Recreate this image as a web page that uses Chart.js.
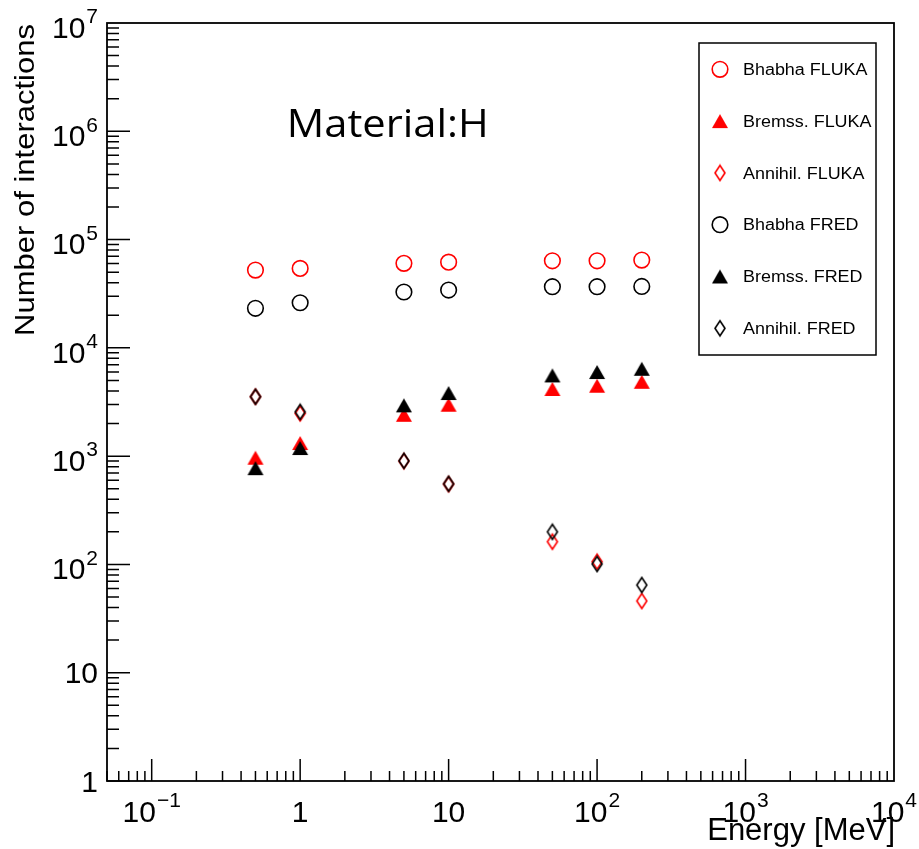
<!DOCTYPE html>
<html>
<head>
<meta charset="utf-8">
<script src="https://cdn.jsdelivr.net/npm/chart.js@4/dist/chart.umd.min.js"></script>
<style>
  html, body { margin: 0; padding: 0; background: #ffffff; }
  #wrap { width: 919px; height: 849px; position: relative; }
</style>
</head>
<body>
<div id="wrap"><canvas id="c" width="919" height="849"></canvas></div>
<script>
// Beam energies (MeV) and number of interactions per process and code
const energies      = [0.5, 1, 5, 10, 50, 100, 200];
const bhabhaFluka   = [52300, 54200, 60300, 61900, 63700, 63700, 64700];
const bremsFluka    = [967, 1322, 2410, 2985, 4170, 4470, 4860];
const annihilFluka  = [3540, 2480, 900, 552, 162, 106, 46];
const bhabhaFred    = [23200, 26100, 32800, 34200, 36700, 36700, 36900];
const bremsFred     = [775, 1188, 2945, 3825, 5570, 5980, 6410];
const annihilFred   = [3540, 2560, 905, 555, 200, 101, 64.5];

const seriesNames = ['Bhabha FLUKA', 'Bremss. FLUKA', 'Annihil. FLUKA',
                     'Bhabha FRED', 'Bremss. FRED', 'Annihil. FRED'];

// Decade tick labels: [mantissa, exponent]
const xTickValues = [0.1, 1, 10, 100, 1000, 10000];
const xTickLabels = [['10', '\u22121'], ['1', ''], ['10', ''], ['10', '2'], ['10', '3'], ['10', '4']];
const yTickValues = [1, 10, 100, 1e3, 1e4, 1e5, 1e6, 1e7];
const yTickLabels = [['1', ''], ['10', ''], ['10', '2'], ['10', '3'], ['10', '4'], ['10', '5'], ['10', '6'], ['10', '7']];

const xTitle = 'Energy [MeV]';
const yTitle = 'Number of interactions';
const materialText = 'Material:H';

const RED = '#ff0000';
const BLACK = '#000000';
const SANS = '"Liberation Sans", Arial, Helvetica, sans-serif';

// Marker images (full triangle, open narrow diamond)
function triangleImage(color) {
  const c = document.createElement('canvas');
  c.width = 18; c.height = 16;
  const g = c.getContext('2d');
  g.fillStyle = color;
  g.beginPath();
  g.moveTo(9, 1); g.lineTo(17, 15); g.lineTo(1, 15);
  g.closePath(); g.fill();
  return c;
}
function diamondImage(color) {
  const c = document.createElement('canvas');
  c.width = 14; c.height = 19;
  const g = c.getContext('2d');
  g.strokeStyle = color; g.lineWidth = 1.6;
  g.beginPath();
  g.moveTo(7, 2); g.lineTo(12, 9.5); g.lineTo(7, 17); g.lineTo(2, 9.5);
  g.closePath(); g.stroke();
  return c;
}

function points(values) {
  return energies.map((e, i) => ({ x: e, y: values[i] }));
}

function circleSet(label, values, color, order) {
  return { label, data: points(values), order,
    pointStyle: 'circle', pointRadius: 7.8, pointHoverRadius: 7.8,
    pointBorderWidth: 1.6, pointBorderColor: color, borderColor: color,
    pointBackgroundColor: 'rgba(0,0,0,0)', backgroundColor: 'rgba(0,0,0,0)', showLine: false };
}
function imageSet(label, values, color, img, order) {
  return { label, data: points(values), order,
    pointStyle: img, pointRadius: 8, pointHoverRadius: 8,
    pointBorderColor: color, borderColor: color, pointBackgroundColor: color,
    backgroundColor: color, showLine: false };
}

const datasets = [
  circleSet(seriesNames[0], bhabhaFluka, RED, 1),
  imageSet(seriesNames[1], bremsFluka, RED, triangleImage(RED), 1),
  imageSet(seriesNames[2], annihilFluka, RED, diamondImage(RED), 1),
  circleSet(seriesNames[3], bhabhaFred, BLACK, 0),
  imageSet(seriesNames[4], bremsFred, BLACK, triangleImage(BLACK), 0),
  imageSet(seriesNames[5], annihilFred, BLACK, diamondImage(BLACK), 0)
];

// Text with optional horizontal stretch to a target width
function stretchedText(ctx, text, x, y, font, targetWidth, align) {
  ctx.save();
  ctx.font = font;
  ctx.textBaseline = 'alphabetic';
  ctx.textAlign = 'left';
  const w = ctx.measureText(text).width;
  const s = targetWidth ? targetWidth / w : 1;
  let x0 = x;
  if (align === 'right') x0 = x - w * s;
  else if (align === 'center') x0 = x - w * s / 2;
  ctx.translate(x0, y);
  ctx.scale(s, 1);
  ctx.fillText(text, 0, 0);
  ctx.restore();
}

const BASE_FONT = '30px ' + SANS;
const EXP_FONT = '21px ' + SANS;

function labelWidth(ctx, parts) {
  ctx.font = BASE_FONT;
  const wb = ctx.measureText(parts[0]).width;
  ctx.font = EXP_FONT;
  const we = parts[1] ? ctx.measureText(parts[1]).width + 1 : 0;
  return { wb, we, w: wb + we };
}
function drawLabel(ctx, parts, x, baseline) {
  const m = labelWidth(ctx, parts);
  ctx.fillStyle = '#000';
  ctx.textAlign = 'left';
  ctx.textBaseline = 'alphabetic';
  ctx.font = BASE_FONT;
  ctx.fillText(parts[0], x, baseline);
  if (parts[1]) {
    ctx.font = EXP_FONT;
    ctx.fillText(parts[1], x + m.wb + 1, baseline - 14.5);
  }
  return m;
}

function drawMarker(ctx, ds, x, y) {
  ctx.save();
  ctx.strokeStyle = ds.pointBorderColor;
  ctx.fillStyle = ds.pointBackgroundColor;
  ctx.lineWidth = ds.pointBorderWidth || 0;
  const style = ds.pointStyle;
  if (typeof style === 'string') {
    ctx.beginPath();
    ctx.arc(x, y, ds.pointRadius, 0, Math.PI * 2);
    ctx.fill();
    ctx.stroke();
  } else {
    ctx.drawImage(style, x - style.width / 2, y - style.height / 2);
  }
  ctx.restore();
}

const rootFrame = {
  id: 'rootFrame',
  beforeDatasetsDraw(chart) {
    const ctx = chart.ctx;
    const { left, right, top, bottom } = chart.chartArea;
    const xs = chart.scales.x, ys = chart.scales.y;
    ctx.save();
    ctx.strokeStyle = '#000';
    ctx.lineWidth = 1.5;
    ctx.beginPath();
    // y ticks (inside, on the left edge)
    for (let d = 0; d < 7; d++) {
      for (let k = 1; k <= 9; k++) {
        const v = k * Math.pow(10, d);
        const py = ys.getPixelForValue(v);
        const len = k === 1 ? 23 : 12;
        ctx.moveTo(left, py); ctx.lineTo(left + len, py);
      }
    }
    // x ticks (inside, on the bottom edge)
    for (let d = -2; d < 4; d++) {
      for (let k = 1; k <= 9; k++) {
        const v = k * Math.pow(10, d);
        if (v < xs.min * 0.999 || v > xs.max * 1.001) continue;
        const px = xs.getPixelForValue(v);
        const len = k === 1 ? 22 : 10;
        ctx.moveTo(px, bottom); ctx.lineTo(px, bottom - len);
      }
    }
    ctx.stroke();
    ctx.lineWidth = 1.8;
    ctx.strokeRect(left, top, right - left, bottom - top);
    ctx.restore();
  },
  afterDraw(chart) {
    const ctx = chart.ctx;
    const { left, right, top, bottom } = chart.chartArea;
    const xs = chart.scales.x, ys = chart.scales.y;
    ctx.save();
    ctx.fillStyle = '#000';

    // y decade labels, right aligned, centred on the tick
    yTickValues.forEach((v, i) => {
      const parts = yTickLabels[i];
      const m = labelWidth(ctx, parts);
      const py = ys.getPixelForValue(v);
      const baseline = py + (parts[1] ? 14.75 : 10.75);
      drawLabel(ctx, parts, 98 - m.w, baseline);
    });
    // x decade labels, centred under the tick
    xTickValues.forEach((v, i) => {
      const parts = xTickLabels[i];
      const m = labelWidth(ctx, parts);
      const px = xs.getPixelForValue(v);
      drawLabel(ctx, parts, px - m.w / 2, 821.7);
    });

    // axis titles
    stretchedText(ctx, xTitle, right + 1, 840, '31px ' + SANS, null, 'right');
    ctx.save();
    ctx.translate(34, 336);
    ctx.rotate(-Math.PI / 2);
    stretchedText(ctx, yTitle, 0, 0, '28px ' + SANS, 312, 'left');
    ctx.restore();

    // material annotation
    stretchedText(ctx, materialText, 286.7, 136.7, '39px "Open Sans", "Noto Sans", sans-serif', 202, 'left');

    // legend box
    const lx = 699, ly = 43, lw = 177, lh = 312;
    ctx.fillStyle = '#fff';
    ctx.fillRect(lx, ly, lw, lh);
    ctx.strokeStyle = '#000';
    ctx.lineWidth = 1.5;
    ctx.strokeRect(lx, ly, lw, lh);
    chart.data.datasets.forEach((ds, i) => {
      const y = 69.3 + i * 51.8;
      drawMarker(ctx, ds, 720, y);
      ctx.fillStyle = '#000';
      ctx.save();
      ctx.font = '16px ' + SANS;
      ctx.translate(743, y + 5.7);
      ctx.scale(1.12, 1);
      ctx.textAlign = 'left';
      ctx.fillText(ds.label, 0, 0);
      ctx.restore();
    });
    ctx.restore();
  }
};

new Chart(document.getElementById('c'), {
  type: 'scatter',
  data: { datasets },
  options: {
    responsive: false,
    animation: false,
    events: [],
    layout: { padding: { left: 107, top: 23, right: 25, bottom: 68 } },
    scales: {
      x: { type: 'logarithmic', min: 0.05, max: 10000, display: false },
      y: { type: 'logarithmic', min: 1, max: 1e7, display: false }
    },
    plugins: { legend: { display: false }, tooltip: { enabled: false } }
  },
  plugins: [rootFrame]
});
</script>
</body>
</html>
